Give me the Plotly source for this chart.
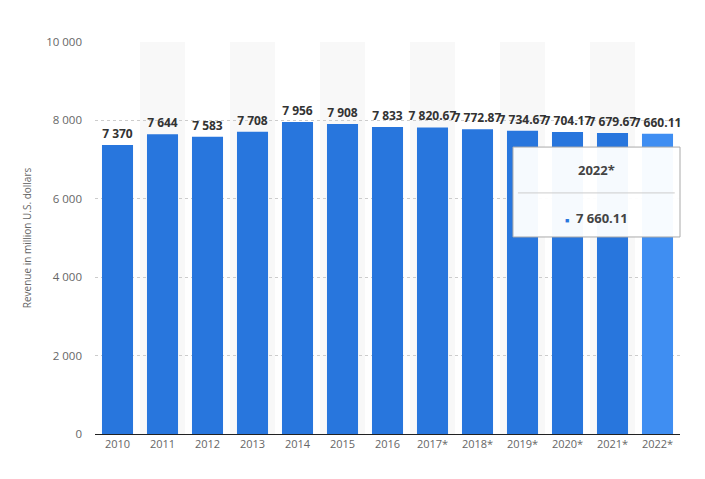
import plotly.graph_objects as go

years = ["2010", "2011", "2012", "2013", "2014", "2015", "2016",
         "2017*", "2018*", "2019*", "2020*", "2021*", "2022*"]
revenue = [7370, 7644, 7583, 7708, 7956, 7908, 7833,
           7820.67, 7772.87, 7734.67, 7704.17, 7679.67, 7660.11]
y_ticks = [0, 2000, 4000, 6000, 8000, 10000]
y_title = "Revenue in million U.S. dollars"
tooltip_title = "2022*"
tooltip_value = "7 660.11"

base_color = "#2876dd"
hl_color = "#3f8ef2"
colors = [base_color] * (len(years) - 1) + [hl_color]

fig = go.Figure()
fig.add_trace(go.Bar(
    x=years, y=revenue,
    marker=dict(color=colors, line=dict(width=0)),
    width=0.69,
    texttemplate="%{y:,}",
    textposition="outside",
    constraintext="none",
    textangle=0,
    cliponaxis=False,
    textfont=dict(family="Open Sans, Arial", size=12, color="#333333", weight="bold"),
    hoverinfo="skip",
))

shapes = []
for i in range(1, len(years), 2):
    shapes.append(dict(type="rect", xref="x", yref="paper", x0=i - 0.5, x1=i + 0.5,
                       y0=0, y1=1, fillcolor="#f8f8f8", line=dict(width=0), layer="below"))

# tooltip box
shapes.append(dict(type="rect", xref="paper", yref="paper", x0=0.7145, x1=1.0,
                   y0=0.5026, y1=0.732, fillcolor="rgba(255,255,255,0.96)",
                   line=dict(color="#aaaaaa", width=1), layer="above"))
shapes.append(dict(type="line", xref="paper", yref="paper", x0=0.723, x1=0.991,
                   y0=0.615, y1=0.615, line=dict(color="#cccccc", width=1), layer="above"))

annotations = [
    dict(xref="paper", yref="paper", x=0.857, y=0.673, xanchor="center", yanchor="middle",
         text="<b>" + tooltip_title + "</b>",
         showarrow=False, font=dict(family="Open Sans, Arial", size=13, color="#444444")),
    dict(xref="paper", yref="paper", x=0.857, y=0.551, xanchor="center", yanchor="middle",
         text="<span style='color:" + base_color + ";font-size:7px'>\u25A0</span>  <b>" + tooltip_value + "</b>",
         showarrow=False, font=dict(family="Open Sans, Arial", size=13, color="#444444")),
]

fig.update_layout(
    width=697, height=471,
    margin=dict(l=87, r=25, t=34, b=45),
    plot_bgcolor="white", paper_bgcolor="white",
    separators=". ",
    showlegend=False,
    shapes=shapes,
    annotations=annotations,
    bargap=0.31,
    xaxis=dict(
        showgrid=False, showline=True, linecolor="#222222", linewidth=1,
        ticks="", tickfont=dict(family="Open Sans, Arial", size=11, color="#666666"),
        fixedrange=True,
    ),
    yaxis=dict(
        range=[0, 10000], tickvals=y_ticks, tickformat=",",
        showgrid=True, gridcolor="#cccccc", griddash="dot", gridwidth=1,
        zeroline=False, showline=False,
        tickfont=dict(family="Open Sans, Arial", size=11.5, color="#666666"),
        ticklabelstandoff=12,
        title=dict(text=y_title, font=dict(family="Open Sans, Arial", size=10, color="#666666"),
                   standoff=12),
    ),
)

fig.write_html("out.html")
